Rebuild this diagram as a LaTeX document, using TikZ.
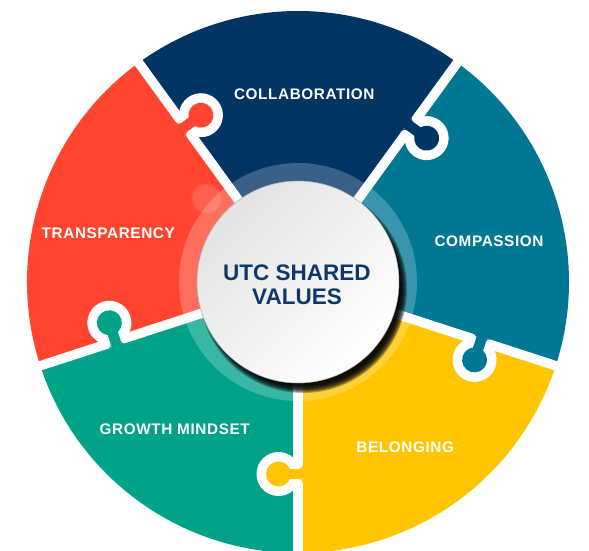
\documentclass[tikz,border=0pt]{standalone}
\usepackage{fontspec}
\setmainfont{Liberation Sans}
\newfontface\lblfont{Liberation Sans Bold}[LetterSpace=4]
\newfontface\ctrfont{Liberation Sans Bold}
\usetikzlibrary{fadings}
\definecolor{cnavy}{HTML}{023564}
\definecolor{cteal}{HTML}{007894}
\definecolor{cred}{HTML}{FF4530}
\definecolor{cgreen}{HTML}{00A388}
\definecolor{cyellow}{HTML}{FFC500}
\definecolor{ctext}{HTML}{0B396B}
\begin{document}
\begin{tikzpicture}[x=1pt,y=1pt,
  lbl/.style={text=white, font=\lblfont\fontsize{15.3}{18}\selectfont, anchor=base, inner sep=0pt},
  gapline/.style={white, line width=9.5}]
\useasboundingbox (-298,-268) rectangle (291,282);
% puzzle pieces
\fill[cnavy]   (0,0) -- (54:271)  arc[start angle=54,  end angle=126, radius=271] -- cycle;
\fill[cred]    (0,0) -- (126:271) arc[start angle=126, end angle=198, radius=271] -- cycle;
\fill[cgreen]  (0,0) -- (198:271) arc[start angle=198, end angle=270, radius=271] -- cycle;
\fill[cyellow] (0,0) -- (270:271) arc[start angle=270, end angle=342, radius=271] -- cycle;
\fill[cteal]   (0,0) -- (-18:271) arc[start angle=-18, end angle=54,  radius=271] -- cycle;
% gaps
\foreach \a in {54,126,198,270,342} \draw[gapline] (0,0) -- (\a:285);
% knobs
\foreach \a/\c in {54/cnavy,126/cred,198/cgreen,270/cyellow,342/cteal}{
  \begin{scope}[rotate=\a]
    \fill[white] (192,-19.5) circle[radius=22];
    \fill[\c] (192,-19.5) circle[radius=12.5];
    \draw[\c,line width=10.5] (192,-19.5) -- (192,6);
    \fill[\c] (197.25,4.75) -- (197.25,1.25) arc[start angle=180,end angle=90,radius=3.5] -- cycle;
    \fill[\c] (186.75,4.75) -- (186.75,1.25) arc[start angle=0,end angle=90,radius=3.5] -- cycle;
  \end{scope}
}
% translucent ring
\fill[white,opacity=0.22] (0,0) circle[radius=119];
\fill[white,opacity=0.14,path fading=circle with fuzzy edge 20 percent] (-92,84) circle[radius=16];
% shadow
\foreach \r in {97,98,...,104} \fill[black,opacity=0.28] (5,-7) circle[radius=\r];
% centre disc
\shade[top color=black!11, bottom color=white, shading angle=45] (0,0) circle[radius=101];
\draw[black!30, line width=0.5] (0,0) circle[radius=101];
% labels
\node[lbl] (collab) at (6.3,182.3) {COLLABORATION};
\node[lbl] (compas) at (191,35.5) {COMPASSION};
\node[lbl] (transp) at (-189.7,43.7) {TRANSPARENCY};
\node[lbl] (growth) at (-123.3,-152) {GROWTH MINDSET};
\node[lbl] (belong) at (107.2,-170.5) {BELONGING};
\node[align=center, text=ctext, font=\ctrfont\fontsize{22.5}{23.5}\selectfont, inner sep=0pt] (title) at (-1,-2.75) {UTC SHARED\\VALUES};
\end{tikzpicture}
\end{document}
